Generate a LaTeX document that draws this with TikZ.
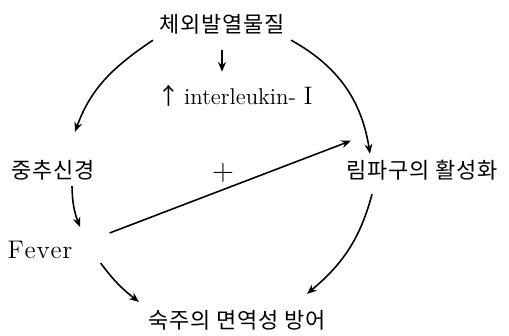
\documentclass[tikz,border=0pt]{standalone}
\usepackage{fontspec}
\newfontfamily\kr[LetterSpace=4]{Noto Sans CJK KR}
\newfontfamily\krarrow{Noto Sans CJK KR}
\usetikzlibrary{arrows.meta}
\begin{document}
\begin{tikzpicture}[
  arr/.style={-{Stealth[length=5.5pt,width=4.5pt]}, line width=0.9pt},
  kor/.style={font=\kr\fontsize{12.5}{14}\selectfont},
  lat/.style={font=\fontsize{13}{15}\selectfont}]
\useasboundingbox (0,0) rectangle (10.18,6.72);

\node[kor] (pyro) at (4.44,6.24) {체외발열물질};
\node[lat] (il) at (4.70,4.80) {{\krarrow ↑}\,interleukin-\ {\Large I}};

\node[kor] (cns) at (1.06,3.32) {중추신경};
\node[lat, font=\fontsize{16}{18}\selectfont] (plus) at (4.46,3.26) {$+$};
\node[kor] (lym) at (8.44,3.32) {림파구의 활성화};

\node[lat, font=\fontsize{14.5}{16}\selectfont] (fever) at (0.80,1.72) {F\kern0.5pt e\kern0.5pt v\kern0.5pt e\kern0.5pt r};
\node[kor] (host) at (4.74,0.32) {숙주의 면역성 방어};

\draw[arr, shorten <=0.2cm, shorten >=0.15cm] (pyro.south) -- (pyro.south |- il.north);
\draw[arr] (pyro.south west) to[out=214,in=70] ([shift={(0.44,0.44)}]cns.north);
\draw[arr] (pyro.south east) to[out=-29,in=99] ([xshift=-1.04cm]lym.north);

\draw[arr] ([xshift=0.38cm]cns.south) to[bend right=10] ([shift={(0.8,0.16)}]fever.north);
\draw[arr] ([shift={(0.62,0.04)}]fever.north east) -- ([shift={(0.22,0.26)}]lym.north west);

\draw[arr] ([shift={(0.44,0.04)}]fever.south east) to[bend right=8] ([shift={(-0.06,0.04)}]host.north west);
\draw[arr] ([shift={(-1.0,-0.16)}]lym.south) to[out=255,in=40] ([shift={(-0.5,0.2)}]host.north east);
\end{tikzpicture}
\end{document}
